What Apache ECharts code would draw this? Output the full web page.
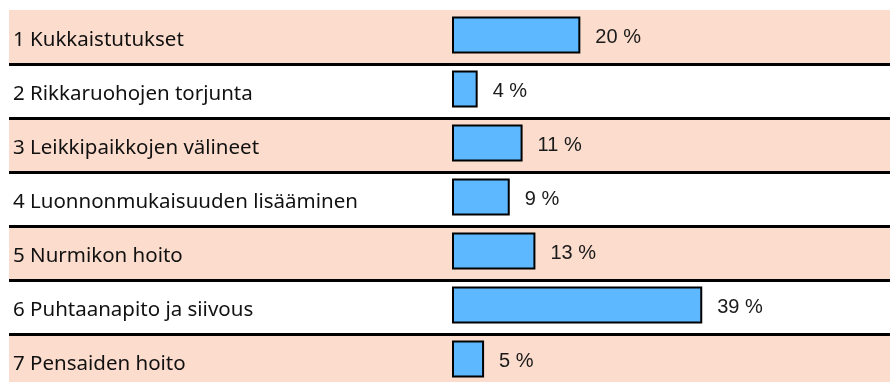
<!DOCTYPE html>
<html>
<head>
<meta charset="utf-8">
<script src="https://cdn.jsdelivr.net/npm/echarts@6/dist/echarts.min.js"></script>
<style>
  html, body { margin: 0; padding: 0; background: #ffffff; overflow: hidden; }
  #chart { width: 890px; height: 390px; }
</style>
</head>
<body>
<div id="chart"></div>
<script>
// Vastausten jakauma aihealueittain
const categories = [
  '1 Kukkaistutukset',
  '2 Rikkaruohojen torjunta',
  '3 Leikkipaikkojen välineet',
  '4 Luonnonmukaisuuden lisääminen',
  '5 Nurmikon hoito',
  '6 Puhtaanapito ja siivous',
  '7 Pensaiden hoito'
];
const shares = [20, 4, 11, 9, 13, 39, 5];

const chart = echarts.init(document.getElementById('chart'), null, { renderer: 'canvas' });

chart.setOption({
  animation: false,
  backgroundColor: '#ffffff',
  grid: [
    // row bands, separators and category names (last row runs past the bottom edge)
    { left: 9, right: 0, top: 10, height: 378 },
    // bars
    { left: 452, width: 385, top: 8, height: 378 }
  ],
  xAxis: [
    { gridIndex: 0, type: 'value', min: 0, max: 1, show: false },
    { gridIndex: 1, type: 'value', min: 0, max: 60, show: false }
  ],
  yAxis: [
    {
      gridIndex: 0,
      type: 'category',
      data: categories,
      inverse: true,
      axisLine: { show: false },
      axisTick: { show: false },
      axisLabel: {
        inside: true,
        margin: 4,
        fontFamily: 'Noto Sans',
        fontSize: 20.5,
        color: '#111111',
        // nudge names slightly below the row centre
        formatter: '{n|{value}}',
        rich: {
          n: {
            fontFamily: 'Noto Sans',
            fontSize: 20.5,
            color: '#111111',
            padding: [7, 0, 0, 0]
          }
        }
      },
      splitArea: {
        show: true,
        areaStyle: { color: ['#FBDCCD', '#FFFFFF'] }
      },
      splitLine: {
        show: true,
        showMinLine: false,
        showMaxLine: false,
        lineStyle: { color: '#000000', width: 3 }
      }
    },
    {
      gridIndex: 1,
      type: 'category',
      data: categories,
      inverse: true,
      show: false
    }
  ],
  series: [
    {
      type: 'bar',
      xAxisIndex: 1,
      yAxisIndex: 1,
      data: shares,
      barWidth: 37,
      itemStyle: {
        color: '#5DB8FF',
        borderColor: '#000000',
        borderWidth: 2
      },
      label: {
        show: true,
        position: 'right',
        distance: 15,
        formatter: '{v|{c} %}',
        rich: {
          v: {
            fontFamily: 'Liberation Sans',
            fontSize: 20,
            color: '#1a1a1a',
            padding: [4, 0, 0, 0]
          }
        }
      }
    }
  ]
});
</script>
</body>
</html>
